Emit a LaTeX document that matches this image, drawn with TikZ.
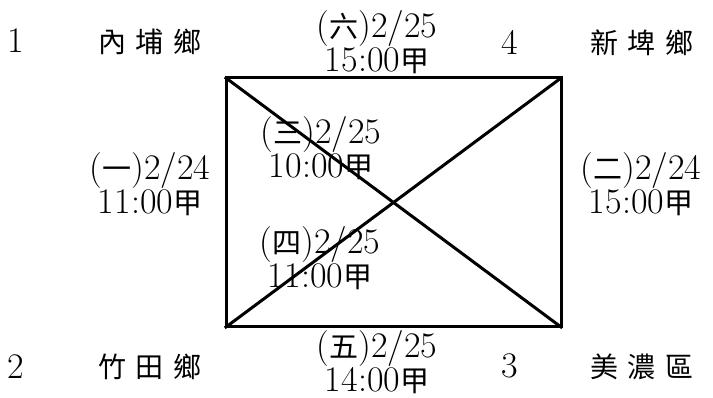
\documentclass[tikz,border=0pt]{standalone}
\usepackage{fontspec}
\newfontfamily\cjk{Noto Sans CJK TC}
\newcommand\zh[1]{{\cjk\fontsize{29}{35}\selectfont #1}}
\usetikzlibrary{positioning}

\begin{document}
\begin{tikzpicture}[x=1pt,y=-1pt]
\tikzset{
				edge/.style={
					line width=3pt,
					line cap=rect,
					line join=miter
				},
				numlabel/.style={
					inner sep=0pt,
					font=\fontsize{36}{35}\selectfont
				},
				townlabel/.style={
					inner sep=0pt,
					font=\fontsize{28}{35}\selectfont\cjk
				},
				gamelabel/.style={
					inner sep=0pt,
					align=center,
					font=\fontsize{36}{34}\selectfont
				}
			}
			\useasboundingbox (0,0) rectangle (713,398);
			\coordinate (c1) at (226,78);
			\coordinate (c4) at (561,78);
			\coordinate (c3) at (561,327);
			\coordinate (c2) at (226,327);
			
			\node[numlabel] (n1) at (16,41) {1};
			\node[townlabel] (t1) at (150,42) {內\,\,埔\,\,鄉};
			\node[numlabel] (n4) at (510,42) {4};
			\node[townlabel] (t4) at (642,43) {新\,\,埤\,\,鄉};
			\node[numlabel] (n2) at (16,367) {2};
			\node[townlabel] (t2) at (150,367) {竹\,\,田\,\,鄉};
			\node[numlabel] (n3) at (510,366) {3};
			\node[townlabel] (t3) at (642,367) {美\,\,濃\,\,區};
			
			\node[gamelabel] (g6) at (377,42) {(\zh{六})2/25\\15:00\zh{甲}};
			\node[gamelabel] (g1) at (150,184) {(\zh{一})2/24\\11:00\zh{甲}};
			\node[gamelabel] (g2) at (641,184) {(\zh{二})2/24\\15:00\zh{甲}};
			\node[gamelabel] (g3) at (321,148) {(\zh{三})2/25\\10:00\zh{甲}};
			\node[gamelabel] (g4) at (320,258) {(\zh{四})2/25\\11:00\zh{甲}};
			\node[gamelabel] (g5) at (377,362) {(\zh{五})2/25\\14:00\zh{甲}};
			
			\draw[edge] (c1) -- (c4) -- (c3) -- (c2) -- cycle;
			\draw[edge] (c1) -- (c3);
			\draw[edge] (c2) -- (c4);
\end{tikzpicture}
\end{document}
